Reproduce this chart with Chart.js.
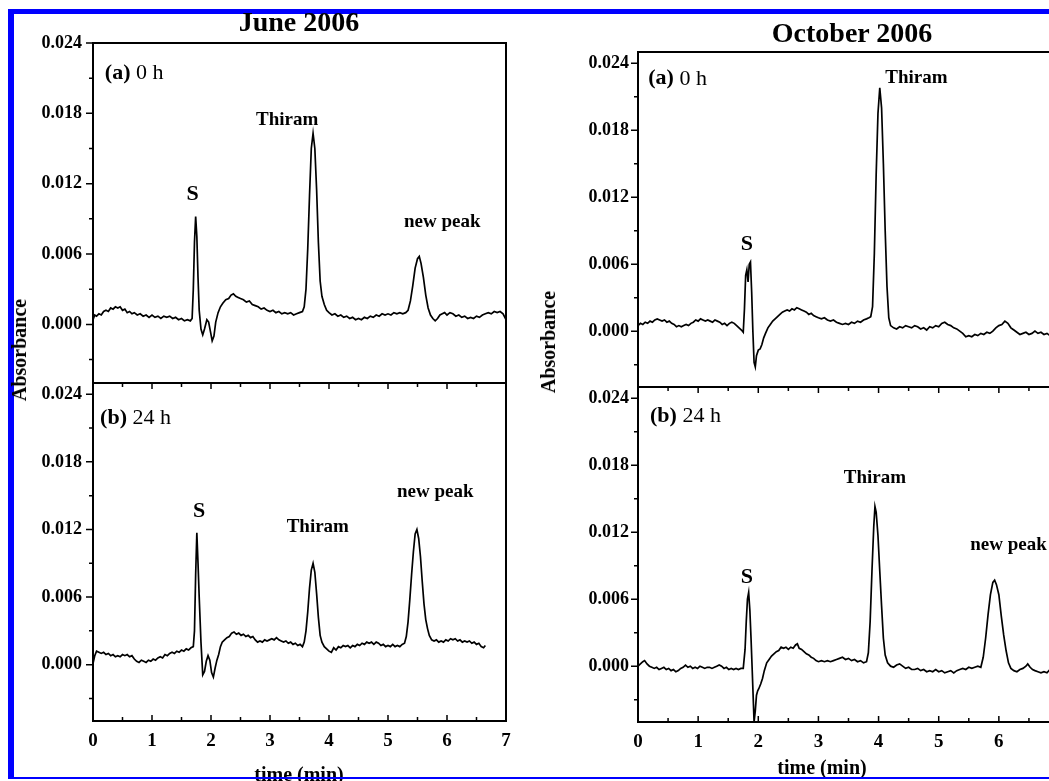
<!DOCTYPE html>
<html>
<head>
<meta charset="utf-8">
<title>Thiram chromatograms, June and October 2006</title>
<script src="https://cdn.jsdelivr.net/npm/chart.js@4.4.1/dist/chart.umd.min.js"></script>
<style>
  html, body { margin: 0; padding: 0; background: #fff; width: 1049px; height: 781px; overflow: hidden; }
  body { position: relative; font-family: 'Liberation Serif', 'Times New Roman', serif; color: #000; }
  .panel { position: absolute; z-index: 1; }
  .txt { position: absolute; white-space: nowrap; font-weight: bold; line-height: 1; z-index: 3; }
  .frame { position: absolute; background: #0000ff; z-index: 2; }
</style>
</head>
<body>
<div class="frame" style="left:8px;top:9px;width:1041px;height:5px"></div>
<div class="frame" style="left:8px;top:9px;width:6px;height:770px"></div>
<div class="frame" style="left:8px;top:777px;width:1041px;height:2px;z-index:4"></div>

<div class="txt" style="left:299px;top:8px;font-size:28px;transform:translateX(-50%)">June 2006</div>
<div class="txt" style="left:852px;top:19px;font-size:28px;transform:translateX(-50%)">October 2006</div>
<div class="txt" style="left:299px;top:764px;font-size:20px;transform:translateX(-50%)">time (min)</div>
<div class="txt" style="left:822px;top:757px;font-size:20px;transform:translateX(-50%)">time (min)</div>
<div class="txt" style="left:19px;top:350px;font-size:20px;transform:translate(-50%,-50%) rotate(-90deg)">Absorbance</div>
<div class="txt" style="left:548px;top:342px;font-size:20px;transform:translate(-50%,-50%) rotate(-90deg)">Absorbance</div>

<div class="panel" id="wrapJuneA"><canvas id="juneA"></canvas></div>
<div class="panel" id="wrapJuneB"><canvas id="juneB"></canvas></div>
<div class="panel" id="wrapOctA"><canvas id="octA"></canvas></div>
<div class="panel" id="wrapOctB"><canvas id="octB"></canvas></div>

<script>
// axis ticks
const xTickLabels = [0, 1, 2, 3, 4, 5, 6, 7];
const xTickMarks = [0, 0.5, 1, 1.5, 2, 2.5, 3, 3.5, 4, 4.5, 5, 5.5, 6, 6.5, 7];
const yTickLabels = [0, 0.006, 0.012, 0.018, 0.024];
const yTickMarks = [-0.003, 0, 0.003, 0.006, 0.009, 0.012, 0.015, 0.018, 0.021, 0.024];

// June 2006, (a) 0 h
const juneZeroTime = [
  0.00, 0.03, 0.06, 0.10, 0.14, 0.18, 0.22, 0.26, 0.30, 0.34,
  0.38, 0.42, 0.46, 0.50, 0.54, 0.58, 0.62, 0.66, 0.70, 0.75,
  0.80, 0.85, 0.90, 0.95, 1.00, 1.05, 1.10, 1.15, 1.20, 1.25,
  1.30, 1.35, 1.40, 1.45, 1.50, 1.55, 1.60, 1.65, 1.68, 1.70,
  1.72, 1.74, 1.76, 1.78, 1.80, 1.83, 1.86, 1.89, 1.93, 1.96,
  1.99, 2.02, 2.05, 2.08, 2.12, 2.16, 2.20, 2.25, 2.30, 2.34,
  2.38, 2.42, 2.46, 2.50, 2.55, 2.60, 2.65, 2.70, 2.75, 2.80,
  2.85, 2.90, 2.95, 3.00, 3.05, 3.10, 3.15, 3.20, 3.25, 3.30,
  3.35, 3.40, 3.45, 3.50, 3.55, 3.58, 3.61, 3.64, 3.67, 3.70,
  3.73, 3.76, 3.79, 3.82, 3.85, 3.88, 3.92, 3.96, 4.00, 4.05,
  4.10, 4.15, 4.20, 4.25, 4.30, 4.35, 4.40, 4.45, 4.50, 4.55,
  4.60, 4.65, 4.70, 4.75, 4.80, 4.85, 4.90, 4.95, 5.00, 5.05,
  5.10, 5.15, 5.20, 5.25, 5.30, 5.34, 5.38, 5.42, 5.46, 5.50,
  5.53, 5.56, 5.60, 5.64, 5.68, 5.72, 5.76, 5.80, 5.84, 5.88,
  5.92, 5.96, 6.00, 6.05, 6.10, 6.15, 6.20, 6.25, 6.30, 6.35,
  6.40, 6.45, 6.50, 6.55, 6.60, 6.65, 6.70, 6.75, 6.80, 6.85,
  6.90, 6.95, 7.00
];
const juneZeroAbs = [
  0.0004, 0.0008, 0.0007, 0.0009, 0.0008, 0.0011, 0.0012, 0.0011, 0.0014, 0.0013,
  0.0015, 0.0014, 0.0015, 0.0012, 0.0013, 0.0010, 0.0011, 0.0009, 0.0010, 0.0008,
  0.0009, 0.0007, 0.0008, 0.0006, 0.0008, 0.0006, 0.0007, 0.0005, 0.0007, 0.0006,
  0.0007, 0.0005, 0.0006, 0.0004, 0.0005, 0.0003, 0.0004, 0.0003, 0.0005, 0.0030,
  0.0070, 0.0092, 0.0075, 0.0040, 0.0012, -0.0004, -0.0009, -0.0004, 0.0004, 0.0002,
  -0.0006, -0.0014, -0.0010, 0.0002, 0.0010, 0.0015, 0.0018, 0.0021, 0.0022, 0.0025,
  0.0026, 0.0024, 0.0023, 0.0022, 0.0021, 0.0019, 0.0020, 0.0017, 0.0016, 0.0015,
  0.0013, 0.0014, 0.0012, 0.0011, 0.0012, 0.0010, 0.0011, 0.0009, 0.0010, 0.0009,
  0.0010, 0.0008, 0.0009, 0.0010, 0.0011, 0.0015, 0.0030, 0.0065, 0.0110, 0.0150,
  0.0163, 0.0150, 0.0115, 0.0070, 0.0037, 0.0024, 0.0017, 0.0012, 0.0010, 0.0008,
  0.0009, 0.0007, 0.0008, 0.0006, 0.0007, 0.0005, 0.0006, 0.0004, 0.0005, 0.0004,
  0.0006, 0.0005, 0.0007, 0.0006, 0.0008, 0.0007, 0.0009, 0.0008, 0.0009, 0.0008,
  0.0010, 0.0009, 0.0010, 0.0009, 0.0010, 0.0012, 0.0020, 0.0033, 0.0048, 0.0056,
  0.0058, 0.0052, 0.0040, 0.0025, 0.0014, 0.0008, 0.0005, 0.0003, 0.0005, 0.0008,
  0.0009, 0.0010, 0.0008, 0.0010, 0.0009, 0.0007, 0.0008, 0.0006, 0.0007, 0.0005,
  0.0006, 0.0005, 0.0007, 0.0006, 0.0008, 0.0009, 0.0010, 0.0009, 0.0011, 0.0010,
  0.0011, 0.0009, 0.0004
];

// June 2006, (b) 24 h
const juneDayTime = [
  0.00, 0.03, 0.06, 0.10, 0.14, 0.18, 0.22, 0.26, 0.30, 0.34,
  0.38, 0.42, 0.46, 0.50, 0.54, 0.58, 0.62, 0.66, 0.70, 0.74,
  0.78, 0.82, 0.86, 0.90, 0.94, 0.98, 1.02, 1.06, 1.10, 1.14,
  1.18, 1.22, 1.26, 1.30, 1.34, 1.38, 1.42, 1.46, 1.50, 1.54,
  1.58, 1.62, 1.66, 1.70, 1.72, 1.74, 1.76, 1.78, 1.80, 1.83,
  1.86, 1.89, 1.92, 1.95, 1.98, 2.01, 2.04, 2.07, 2.10, 2.13,
  2.16, 2.19, 2.23, 2.27, 2.31, 2.35, 2.39, 2.43, 2.47, 2.51,
  2.55, 2.59, 2.63, 2.67, 2.71, 2.75, 2.79, 2.83, 2.87, 2.91,
  2.95, 2.99, 3.03, 3.07, 3.11, 3.15, 3.19, 3.23, 3.27, 3.31,
  3.35, 3.39, 3.43, 3.47, 3.51, 3.55, 3.58, 3.61, 3.64, 3.67,
  3.70, 3.73, 3.76, 3.79, 3.82, 3.85, 3.88, 3.92, 3.96, 4.00,
  4.04, 4.08, 4.12, 4.16, 4.20, 4.24, 4.28, 4.32, 4.36, 4.40,
  4.44, 4.48, 4.52, 4.56, 4.60, 4.64, 4.68, 4.72, 4.76, 4.80,
  4.84, 4.88, 4.92, 4.96, 5.00, 5.04, 5.08, 5.12, 5.16, 5.20,
  5.24, 5.28, 5.31, 5.34, 5.37, 5.40, 5.43, 5.46, 5.49, 5.52,
  5.55, 5.58, 5.61, 5.64, 5.67, 5.70, 5.74, 5.78, 5.82, 5.86,
  5.90, 5.94, 5.98, 6.02, 6.06, 6.10, 6.14, 6.18, 6.22, 6.26,
  6.30, 6.34, 6.38, 6.42, 6.46, 6.50, 6.54, 6.58, 6.62, 6.65
];
const juneDayAbs = [
  0.0001, 0.0008, 0.0012, 0.0011, 0.0010, 0.0011, 0.0009, 0.0010, 0.0008, 0.0009,
  0.0007, 0.0008, 0.0007, 0.0009, 0.0008, 0.0009, 0.0007, 0.0008, 0.0005, 0.0003,
  0.0002, 0.0004, 0.0003, 0.0002, 0.0004, 0.0003, 0.0005, 0.0004, 0.0006, 0.0007,
  0.0006, 0.0009, 0.0008, 0.0010, 0.0011, 0.0010, 0.0012, 0.0011, 0.0013, 0.0012,
  0.0014, 0.0013, 0.0015, 0.0016, 0.0030, 0.0080, 0.0117, 0.0090, 0.0060, 0.0020,
  -0.0009, -0.0006, 0.0003, 0.0008, 0.0004, -0.0007, -0.0011, -0.0003, 0.0004, 0.0009,
  0.0016, 0.0020, 0.0022, 0.0024, 0.0025, 0.0028, 0.0029, 0.0027, 0.0028, 0.0026,
  0.0027, 0.0025, 0.0026, 0.0024, 0.0025, 0.0022, 0.0020, 0.0021, 0.0020, 0.0022,
  0.0021, 0.0022, 0.0023, 0.0022, 0.0024, 0.0022, 0.0021, 0.0020, 0.0021, 0.0019,
  0.0020, 0.0018, 0.0019, 0.0017, 0.0018, 0.0016, 0.0020, 0.0030, 0.0047, 0.0068,
  0.0084, 0.0090, 0.0082, 0.0063, 0.0042, 0.0026, 0.0020, 0.0016, 0.0014, 0.0012,
  0.0011, 0.0015, 0.0013, 0.0016, 0.0015, 0.0017, 0.0016, 0.0017, 0.0015, 0.0017,
  0.0016, 0.0018, 0.0017, 0.0019, 0.0018, 0.0020, 0.0019, 0.0020, 0.0018, 0.0020,
  0.0019, 0.0017, 0.0018, 0.0016, 0.0017, 0.0016, 0.0018, 0.0016, 0.0017, 0.0016,
  0.0018, 0.0019, 0.0025, 0.0038, 0.0058, 0.0080, 0.0100, 0.0116, 0.0120, 0.0112,
  0.0096, 0.0074, 0.0054, 0.0040, 0.0032, 0.0026, 0.0022, 0.0021, 0.0022, 0.0020,
  0.0021, 0.0020, 0.0022, 0.0021, 0.0023, 0.0022, 0.0023, 0.0021, 0.0022, 0.0020,
  0.0021, 0.0020, 0.0021, 0.0019, 0.0020, 0.0018, 0.0019, 0.0016, 0.0015, 0.0017
];

// October 2006, (a) 0 h
const octZeroTime = [
  0.00, 0.04, 0.08, 0.12, 0.16, 0.20, 0.24, 0.28, 0.32, 0.36,
  0.40, 0.44, 0.48, 0.52, 0.56, 0.60, 0.64, 0.68, 0.72, 0.76,
  0.80, 0.84, 0.88, 0.92, 0.96, 1.00, 1.04, 1.08, 1.12, 1.16,
  1.20, 1.24, 1.28, 1.32, 1.36, 1.40, 1.44, 1.48, 1.52, 1.56,
  1.60, 1.64, 1.68, 1.72, 1.75, 1.77, 1.79, 1.81, 1.83, 1.85,
  1.87, 1.89, 1.91, 1.93, 1.95, 1.97, 2.00, 2.03, 2.06, 2.09,
  2.12, 2.16, 2.20, 2.24, 2.28, 2.32, 2.36, 2.40, 2.44, 2.48,
  2.52, 2.56, 2.60, 2.64, 2.68, 2.72, 2.76, 2.80, 2.84, 2.88,
  2.92, 2.96, 3.00, 3.05, 3.10, 3.15, 3.20, 3.25, 3.30, 3.35,
  3.40, 3.45, 3.50, 3.55, 3.60, 3.65, 3.70, 3.75, 3.80, 3.84,
  3.87, 3.90, 3.93, 3.96, 3.99, 4.02, 4.05, 4.08, 4.11, 4.14,
  4.17, 4.20, 4.25, 4.30, 4.35, 4.40, 4.45, 4.50, 4.55, 4.60,
  4.65, 4.70, 4.75, 4.80, 4.85, 4.90, 4.95, 5.00, 5.05, 5.10,
  5.15, 5.20, 5.25, 5.30, 5.35, 5.40, 5.45, 5.50, 5.55, 5.60,
  5.65, 5.70, 5.75, 5.80, 5.85, 5.90, 5.95, 6.00, 6.05, 6.10,
  6.15, 6.20, 6.25, 6.30, 6.35, 6.40, 6.45, 6.50, 6.55, 6.60,
  6.65, 6.70, 6.75, 6.80, 6.85, 6.90, 6.95, 7.00
];
const octZeroAbs = [
  0.0005, 0.0007, 0.0006, 0.0008, 0.0007, 0.0009, 0.0008, 0.0010, 0.0011, 0.0010,
  0.0009, 0.0010, 0.0008, 0.0009, 0.0007, 0.0006, 0.0004, 0.0005, 0.0004, 0.0005,
  0.0006, 0.0005, 0.0007, 0.0008, 0.0010, 0.0009, 0.0011, 0.0010, 0.0009, 0.0010,
  0.0009, 0.0008, 0.0010, 0.0009, 0.0008, 0.0006, 0.0007, 0.0005, 0.0007, 0.0008,
  0.0007, 0.0005, 0.0003, 0.0001, -0.0001, 0.0020, 0.0050, 0.0055, 0.0044, 0.0060,
  0.0062, 0.0035, 0.0000, -0.0028, -0.0032, -0.0022, -0.0017, -0.0016, -0.0012, -0.0006,
  -0.0002, 0.0003, 0.0006, 0.0009, 0.0011, 0.0013, 0.0015, 0.0017, 0.0018, 0.0019,
  0.0018, 0.0020, 0.0019, 0.0021, 0.0020, 0.0019, 0.0018, 0.0017, 0.0015, 0.0016,
  0.0014, 0.0013, 0.0012, 0.0011, 0.0012, 0.0010, 0.0009, 0.0010, 0.0008, 0.0007,
  0.0006, 0.0007, 0.0006, 0.0008, 0.0007, 0.0009, 0.0008, 0.0010, 0.0011, 0.0012,
  0.0013, 0.0022, 0.0070, 0.0140, 0.0195, 0.0218, 0.0200, 0.0150, 0.0090, 0.0040,
  0.0012, 0.0005, 0.0003, 0.0002, 0.0004, 0.0003, 0.0005, 0.0004, 0.0003, 0.0005,
  0.0004, 0.0002, 0.0003, 0.0001, 0.0004, 0.0003, 0.0005, 0.0004, 0.0007, 0.0008,
  0.0006, 0.0005, 0.0003, 0.0002, 0.0000, -0.0002, -0.0005, -0.0004, -0.0005, -0.0003,
  -0.0004, -0.0002, -0.0003, -0.0001, -0.0002, 0.0000, 0.0003, 0.0005, 0.0006, 0.0009,
  0.0007, 0.0003, 0.0001, -0.0001, -0.0003, -0.0002, -0.0001, -0.0003, -0.0002, 0.0000,
  -0.0002, -0.0001, -0.0003, -0.0002, -0.0004, -0.0003, -0.0005, -0.0004
];

// October 2006, (b) 24 h
const octDayTime = [
  0.00, 0.04, 0.08, 0.11, 0.15, 0.19, 0.23, 0.27, 0.31, 0.35,
  0.39, 0.43, 0.47, 0.51, 0.55, 0.59, 0.63, 0.67, 0.71, 0.75,
  0.79, 0.83, 0.87, 0.91, 0.95, 0.99, 1.03, 1.07, 1.11, 1.15,
  1.19, 1.23, 1.27, 1.31, 1.35, 1.39, 1.43, 1.47, 1.51, 1.55,
  1.59, 1.63, 1.67, 1.71, 1.75, 1.78, 1.80, 1.82, 1.84, 1.86,
  1.88, 1.90, 1.92, 1.93, 1.95, 1.97, 1.99, 2.01, 2.04, 2.07,
  2.10, 2.14, 2.18, 2.22, 2.26, 2.30, 2.34, 2.38, 2.42, 2.46,
  2.50, 2.54, 2.58, 2.62, 2.65, 2.68, 2.72, 2.76, 2.80, 2.84,
  2.88, 2.92, 2.96, 3.00, 3.05, 3.10, 3.15, 3.20, 3.25, 3.30,
  3.35, 3.40, 3.45, 3.50, 3.55, 3.60, 3.65, 3.70, 3.75, 3.80,
  3.83, 3.86, 3.89, 3.92, 3.94, 3.96, 3.99, 4.02, 4.05, 4.08,
  4.11, 4.15, 4.20, 4.25, 4.30, 4.35, 4.40, 4.45, 4.50, 4.55,
  4.60, 4.65, 4.70, 4.75, 4.80, 4.85, 4.90, 4.95, 5.00, 5.05,
  5.10, 5.15, 5.20, 5.25, 5.30, 5.35, 5.40, 5.45, 5.50, 5.55,
  5.60, 5.65, 5.70, 5.74, 5.78, 5.82, 5.86, 5.90, 5.93, 5.96,
  6.00, 6.04, 6.08, 6.12, 6.16, 6.20, 6.25, 6.30, 6.35, 6.40,
  6.45, 6.48, 6.52, 6.56, 6.60, 6.65, 6.70, 6.75, 6.80, 6.85,
  6.90, 6.95, 7.00
];
const octDayAbs = [
  0.0000, 0.0002, 0.0004, 0.0005, 0.0002, 0.0000, -0.0001, -0.0002, -0.0001, -0.0003,
  -0.0002, -0.0001, -0.0003, -0.0002, -0.0004, -0.0003, -0.0005, -0.0004, -0.0002, -0.0001,
  0.0001, -0.0001, 0.0000, -0.0002, -0.0001, -0.0002, 0.0000, -0.0001, -0.0002, -0.0001,
  -0.0001, -0.0002, -0.0001, 0.0000, 0.0001, 0.0000, -0.0002, -0.0001, -0.0003, -0.0002,
  -0.0003, -0.0002, -0.0003, -0.0002, -0.0002, 0.0015, 0.0040, 0.0060, 0.0066, 0.0050,
  0.0024, -0.0005, -0.0035, -0.0050, -0.0040, -0.0026, -0.0022, -0.0020, -0.0016, -0.0011,
  -0.0004, 0.0003, 0.0006, 0.0009, 0.0011, 0.0013, 0.0014, 0.0017, 0.0016, 0.0017,
  0.0015, 0.0017, 0.0016, 0.0019, 0.0020, 0.0016, 0.0015, 0.0013, 0.0011, 0.0010,
  0.0008, 0.0007, 0.0005, 0.0004, 0.0005, 0.0004, 0.0005, 0.0004, 0.0005, 0.0006,
  0.0007, 0.0008, 0.0006, 0.0007, 0.0005, 0.0006, 0.0004, 0.0005, 0.0003, 0.0004,
  0.0012, 0.0040, 0.0085, 0.0125, 0.0143, 0.0138, 0.0117, 0.0085, 0.0054, 0.0025,
  0.0010, 0.0003, 0.0000, -0.0001, 0.0001, 0.0002, 0.0000, -0.0002, -0.0001, -0.0003,
  -0.0003, -0.0002, -0.0004, -0.0003, -0.0005, -0.0004, -0.0005, -0.0003, -0.0005, -0.0004,
  -0.0006, -0.0005, -0.0004, -0.0006, -0.0004, -0.0003, -0.0002, -0.0003, -0.0001, -0.0002,
  -0.0001, 0.0000, -0.0001, 0.0008, 0.0025, 0.0046, 0.0064, 0.0075, 0.0077, 0.0073,
  0.0064, 0.0045, 0.0028, 0.0014, 0.0003, -0.0002, -0.0004, -0.0005, -0.0003, -0.0002,
  0.0000, 0.0002, -0.0001, -0.0003, -0.0004, -0.0005, -0.0006, -0.0005, -0.0006, -0.0003,
  -0.0004, -0.0005, -0.0004
];

// peak labels, placed in data units (time, absorbance)
const juneZeroNotes = [
  { parts: [['(a)', true], [' 0 h', false]], t: 0.20, a: 0.0214, size: 22, align: 'left' },
  { parts: [['S', true]], t: 1.69, a: 0.0111, size: 22 },
  { parts: [['Thiram', true]], t: 3.29, a: 0.0174, size: 19 },
  { parts: [['new peak', true]], t: 5.92, a: 0.0087, size: 19 }
];
const juneDayNotes = [
  { parts: [['(b)', true], [' 24 h', false]], t: 0.12, a: 0.0219, size: 22, align: 'left' },
  { parts: [['S', true]], t: 1.80, a: 0.0136, size: 22 },
  { parts: [['Thiram', true]], t: 3.81, a: 0.0122, size: 19 },
  { parts: [['new peak', true]], t: 5.80, a: 0.0153, size: 19 }
];
const octZeroNotes = [
  { parts: [['(a)', true], [' 0 h', false]], t: 0.17, a: 0.0226, size: 22, align: 'left' },
  { parts: [['S', true]], t: 1.81, a: 0.0078, size: 22 },
  { parts: [['Thiram', true]], t: 4.63, a: 0.0227, size: 19 }
];
const octDayNotes = [
  { parts: [['(b)', true], [' 24 h', false]], t: 0.20, a: 0.0224, size: 22, align: 'left' },
  { parts: [['S', true]], t: 1.81, a: 0.0080, size: 22 },
  { parts: [['Thiram', true]], t: 3.94, a: 0.0168, size: 19 },
  { parts: [['new peak', true]], t: 6.16, a: 0.0108, size: 19 }
];

const SERIF = '"Liberation Serif", "Times New Roman", serif';

// frame, tick marks (y outward, x inward) and the peak labels
const framePlugin = {
  id: 'panelFrame',
  afterDraw(chart, args, opts) {
    const { ctx, chartArea: a, scales: { x, y } } = chart;
    ctx.save();
    ctx.strokeStyle = '#000';
    ctx.lineWidth = 1.5;
    ctx.beginPath();
    yTickMarks.forEach(v => {
      const py = y.getPixelForValue(v);
      if (py < a.top - 0.5 || py > a.bottom + 0.5) return;
      const len = yTickLabels.includes(v) ? 7 : 4;
      ctx.moveTo(a.left - len, py); ctx.lineTo(a.left, py);
    });
    xTickMarks.forEach(v => {
      const px = x.getPixelForValue(v);
      const len = Number.isInteger(v) ? 6 : 4;
      if (opts.bottomTicks) { ctx.moveTo(px, a.bottom); ctx.lineTo(px, a.bottom - len); }
      if (opts.topTicks) { ctx.moveTo(px, a.top); ctx.lineTo(px, a.top + len); }
    });
    ctx.stroke();
    ctx.lineWidth = 2;
    ctx.strokeRect(a.left, a.top, a.right - a.left, a.bottom - a.top);

    ctx.fillStyle = '#000';
    ctx.textBaseline = 'middle';
    (opts.notes || []).forEach(n => {
      const px = x.getPixelForValue(n.t);
      const py = y.getPixelForValue(n.a);
      let width = 0;
      n.parts.forEach(([s, bold]) => {
        ctx.font = (bold ? 'bold ' : '') + n.size + 'px ' + SERIF;
        width += ctx.measureText(s).width;
      });
      let cx = n.align === 'left' ? px : px - width / 2;
      ctx.textAlign = 'left';
      n.parts.forEach(([s, bold]) => {
        ctx.font = (bold ? 'bold ' : '') + n.size + 'px ' + SERIF;
        ctx.fillText(s, cx, py);
        cx += ctx.measureText(s).width;
      });
    });
    ctx.restore();
  }
};

const AXIS_W = 80, PAD = 10;

function makePanel(id, box, times, values, yMax, notes, lower, labelPad) {
  const bottomSpace = lower ? 50 : 0;
  const wrap = document.getElementById('wrap' + id.charAt(0).toUpperCase() + id.slice(1));
  wrap.style.left = (box.left - AXIS_W) + 'px';
  wrap.style.top = (box.top - PAD) + 'px';
  wrap.style.width = (box.right - box.left + AXIS_W + PAD) + 'px';
  wrap.style.height = (box.bottom - box.top + PAD + bottomSpace) + 'px';

  const points = times.map((t, i) => ({ x: t, y: values[i] }));

  return new Chart(document.getElementById(id), {
    type: 'line',
    data: { datasets: [{ data: points, borderColor: '#000', borderWidth: 1.7, pointRadius: 0, tension: 0, fill: false }] },
    options: {
      responsive: true,
      maintainAspectRatio: false,
      animation: false,
      events: [],
      layout: { padding: { top: PAD, right: PAD, left: 0, bottom: 0 } },
      plugins: {
        legend: { display: false },
        tooltip: { enabled: false },
        panelFrame: { notes: notes, bottomTicks: lower, topTicks: lower }
      },
      scales: {
        x: {
          type: 'linear', min: 0, max: 7,
          grid: { display: false, drawTicks: false },
          border: { display: false },
          afterBuildTicks: s => { s.ticks = xTickLabels.map(v => ({ value: v })); },
          afterFit: s => { s.height = bottomSpace; s.paddingLeft = 0; s.paddingRight = 0; },
          ticks: {
            display: lower, padding: 9, autoSkip: false, maxRotation: 0, color: '#000',
            font: { family: SERIF, size: 19, weight: 'bold' },
            callback: v => String(v)
          }
        },
        y: {
          type: 'linear', min: -0.005, max: yMax,
          grid: { display: false, drawTicks: false },
          border: { display: false },
          afterBuildTicks: s => { s.ticks = yTickLabels.map(v => ({ value: v })); },
          afterFit: s => { s.width = AXIS_W; s.paddingTop = 0; s.paddingBottom = 0; },
          ticks: {
            padding: labelPad, color: '#000',
            font: { family: SERIF, size: 18, weight: 'bold' },
            callback: v => v.toFixed(3)
          }
        }
      }
    },
    plugins: [framePlugin]
  });
}

makePanel('juneA', { left: 93, top: 43, right: 506, bottom: 383 }, juneZeroTime, juneZeroAbs, 0.024, juneZeroNotes, false, 11);
makePanel('juneB', { left: 93, top: 383, right: 506, bottom: 721 }, juneDayTime, juneDayAbs, 0.025, juneDayNotes, true, 11);
makePanel('octA', { left: 638, top: 52, right: 1059, bottom: 387 }, octZeroTime, octZeroAbs, 0.025, octZeroNotes, false, 9);
makePanel('octB', { left: 638, top: 387, right: 1059, bottom: 722 }, octDayTime, octDayAbs, 0.025, octDayNotes, true, 9);
</script>
</body>
</html>
